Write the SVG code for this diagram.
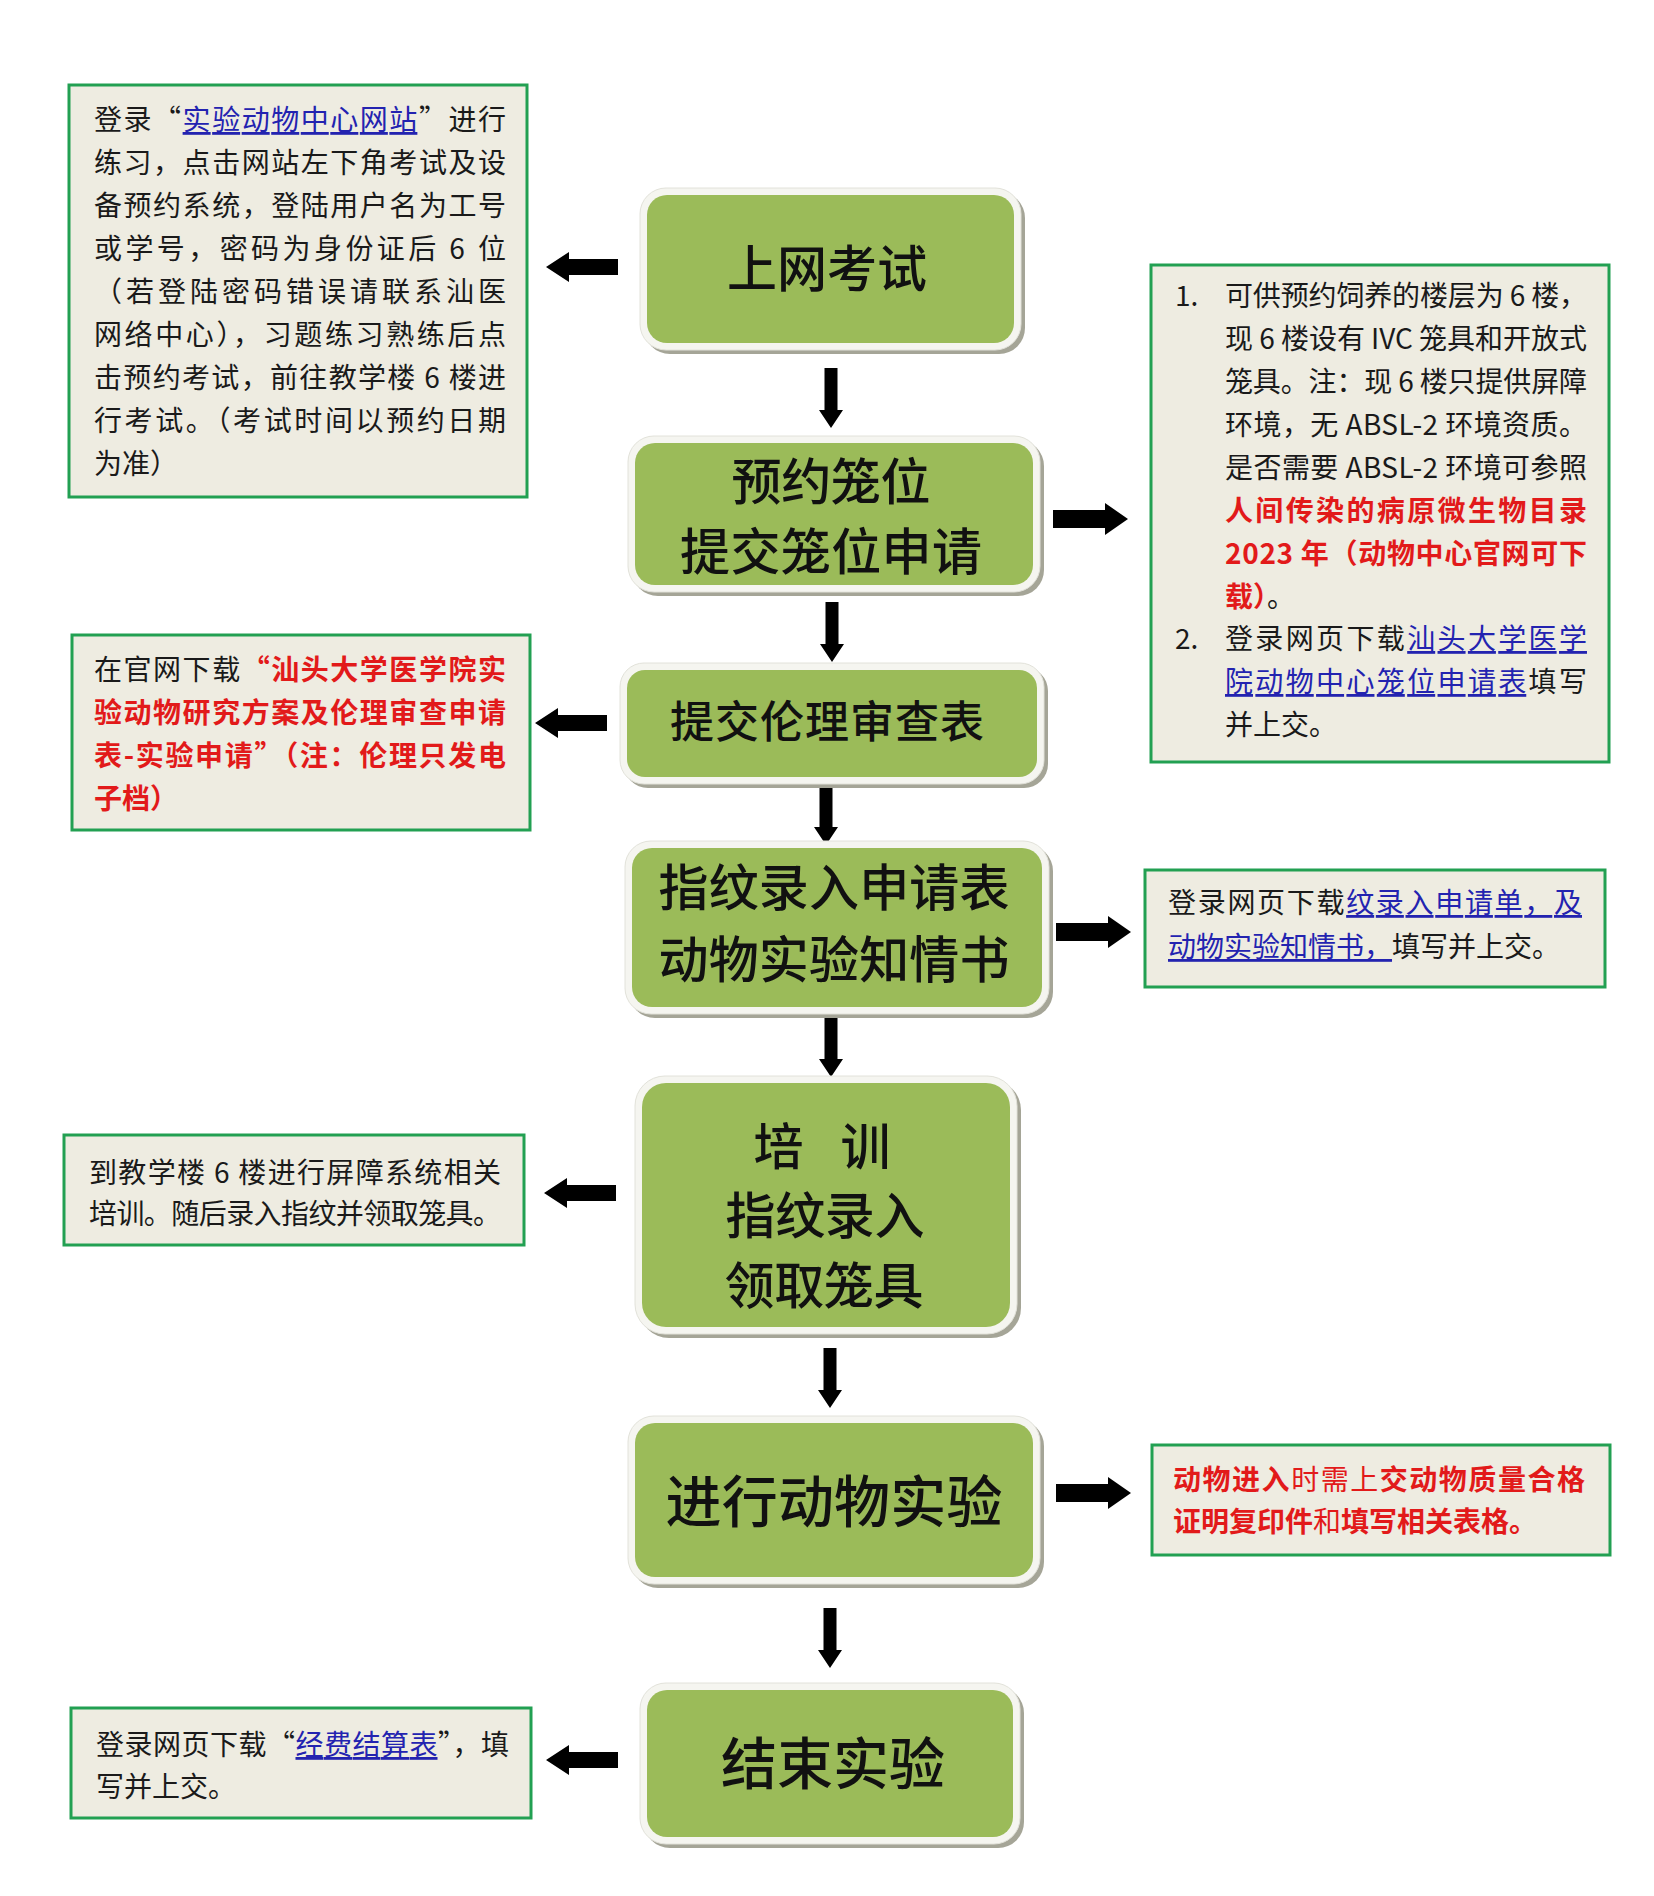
<svg xmlns="http://www.w3.org/2000/svg" width="1654" height="1896" viewBox="0 0 1654 1896">
<style>
.bg{fill:#ffffff}
.box{fill:#EEECE1;stroke:#22A052;stroke-width:3}
.shadow{fill:#A5A597}
.rim{fill:#F5F5F0;stroke:#E2E2DA;stroke-width:1}
.green{fill:#9BBB59}
.title{font-family:"Noto Sans CJK SC","Noto Sans CJK JP",sans-serif;fill:#111;text-anchor:middle;font-weight:500}
.t{font-family:"Noto Sans CJK SC","Noto Sans CJK JP",sans-serif;font-size:28px;fill:#1a1a1a}
.red{fill:#E21A1A;font-weight:700}
.redn{fill:#E21A1A}
.link{fill:#2323B0;text-decoration:underline}
.arrow{fill:#000}
</style>
<defs>
<path id="aL" d="M0,0 L23,-15 L23,-8 L72,-8 L72,8 L23,8 L23,15 Z"/>
<path id="aR" d="M0,0 L-23,-16 L-23,-9 L-75,-9 L-75,9 L-23,9 L-23,16 Z"/>
<path id="aD" d="M0,0 L-12,-18 L-6.5,-18 L-6.5,-60 L6.5,-60 L6.5,-18 L12,-18 Z"/>
</defs>
<rect class="bg" x="0" y="0" width="1654" height="1896"/>

<g id="connectors" class="arrow">
<use href="#aL" x="546" y="267"/>
<use href="#aD" x="831" y="428"/>
<use href="#aR" x="1128" y="519"/>
<use href="#aD" x="832" y="662"/>
<use href="#aL" x="535" y="723"/>
<use href="#aD" x="826" y="845"/>
<use href="#aR" x="1131" y="932"/>
<use href="#aD" x="831" y="1077"/>
<use href="#aL" x="544" y="1193"/>
<use href="#aD" x="830" y="1408"/>
<use href="#aR" x="1131" y="1493"/>
<use href="#aD" x="830" y="1668"/>
<use href="#aL" x="546" y="1760"/>
</g>

<g id="node-exam">
<rect class="shadow" x="644" y="192" width="381" height="162" rx="26"/>
<rect class="rim" x="640" y="188" width="381" height="162" rx="26"/>
<rect class="green" x="647" y="195" width="367" height="148" rx="20"/>
<text class="title" x="827" y="287" font-size="50" textLength="200">上网考试</text>
</g>

<g id="node-reserve">
<rect class="shadow" x="632" y="440" width="412" height="156" rx="26"/>
<rect class="rim" x="628" y="436" width="412" height="156" rx="26"/>
<rect class="green" x="635" y="443" width="398" height="142" rx="20"/>
<text class="title" x="831" y="500" font-size="50" textLength="199">预约笼位</text>
<text class="title" x="831" y="570" font-size="50" textLength="302">提交笼位申请</text>
</g>

<g id="node-ethics">
<rect class="shadow" x="624" y="667" width="424" height="121" rx="24"/>
<rect class="rim" x="620" y="663" width="424" height="121" rx="24"/>
<rect class="green" x="627" y="670" width="410" height="107" rx="18"/>
<text class="title" x="827" y="738" font-size="44" textLength="314">提交伦理审查表</text>
</g>

<g id="node-fingerprint">
<rect class="shadow" x="629" y="845" width="424" height="173" rx="26"/>
<rect class="rim" x="625" y="841" width="424" height="173" rx="26"/>
<rect class="green" x="632" y="848" width="410" height="159" rx="20"/>
<text class="title" x="834" y="906" font-size="50" textLength="351">指纹录入申请表</text>
<text class="title" x="834" y="978" font-size="50" textLength="351">动物实验知情书</text>
</g>

<g id="node-training">
<rect class="shadow" x="639" y="1080" width="382" height="258" rx="30"/>
<rect class="rim" x="635" y="1076" width="382" height="258" rx="30"/>
<rect class="green" x="642" y="1083" width="368" height="244" rx="24"/>
<text class="title" x="822" y="1165" font-size="50" font-weight="700" xml:space="preserve" textLength="137">培 训</text>
<text class="title" x="825" y="1234" font-size="50" textLength="199">指纹录入</text>
<text class="title" x="824" y="1304" font-size="50" textLength="199">领取笼具</text>
</g>

<g id="node-experiment">
<rect class="shadow" x="632" y="1420" width="412" height="168" rx="26"/>
<rect class="rim" x="628" y="1416" width="412" height="168" rx="26"/>
<rect class="green" x="635" y="1423" width="398" height="154" rx="20"/>
<text class="title" x="834" y="1522" font-size="56" font-weight="700" textLength="337">进行动物实验</text>
</g>

<g id="node-end">
<rect class="shadow" x="644" y="1687" width="380" height="161" rx="26"/>
<rect class="rim" x="640" y="1683" width="380" height="161" rx="26"/>
<rect class="green" x="647" y="1690" width="366" height="147" rx="20"/>
<text class="title" x="833" y="1784" font-size="56" font-weight="700" textLength="224">结束实验</text>
</g>

<g id="note-exam">
<rect class="box" x="69" y="85" width="458" height="412"/>
<text class="t" x="94" y="130" textLength="412">登录“<tspan class="link">实验动物中心网站</tspan>”进行</text>
<text class="t" x="94" y="173" textLength="412">练习，点击网站左下角考试及设</text>
<text class="t" x="94" y="216" textLength="412">备预约系统，登陆用户名为工号</text>
<text class="t" x="94" y="259" textLength="412" xml:space="preserve">或学号，密码为身份证后 6 位</text>
<text class="t" x="94" y="302" textLength="412">（若登陆密码错误请联系汕医</text>
<text class="t" x="94" y="345" textLength="412">网络中心），习题练习熟练后点</text>
<text class="t" x="94" y="388" textLength="412" xml:space="preserve">击预约考试，前往教学楼 6 楼进</text>
<text class="t" x="94" y="431" textLength="412">行考试。（考试时间以预约日期</text>
<text class="t" x="94" y="474">为准）</text>
</g>

<g id="note-cage">
<rect class="box" x="1151" y="265" width="458" height="497"/>
<text class="t" x="1175" y="306">1.</text>
<text class="t" x="1225" y="306" textLength="362" xml:space="preserve">可供预约饲养的楼层为 6 楼，</text>
<text class="t" x="1225" y="349" textLength="362" xml:space="preserve">现 6 楼设有 IVC 笼具和开放式</text>
<text class="t" x="1225" y="392" textLength="362" xml:space="preserve">笼具。注：现 6 楼只提供屏障</text>
<text class="t" x="1225" y="435" textLength="362" xml:space="preserve">环境，无 ABSL-2 环境资质。</text>
<text class="t" x="1225" y="478" textLength="362" xml:space="preserve">是否需要 ABSL-2 环境可参照</text>
<text class="t red" x="1225" y="521" textLength="362">人间传染的病原微生物目录</text>
<text class="t red" x="1225" y="564" textLength="362" xml:space="preserve">2023 年（动物中心官网可下</text>
<text class="t" x="1225" y="607"><tspan class="red">载）</tspan>。</text>
<text class="t" x="1175" y="649">2.</text>
<text class="t" x="1225" y="649" textLength="362">登录网页下载<tspan class="link">汕头大学医学</tspan></text>
<text class="t" x="1225" y="692" textLength="362"><tspan class="link">院动物中心笼位申请表</tspan>填写</text>
<text class="t" x="1225" y="735">并上交。</text>
</g>

<g id="note-ethics">
<rect class="box" x="72" y="635" width="458" height="195"/>
<text class="t" x="94" y="680" textLength="412">在官网下载<tspan class="red">“汕头大学医学院实</tspan></text>
<text class="t red" x="94" y="723" textLength="412">验动物研究方案及伦理审查申请</text>
<text class="t red" x="94" y="766" textLength="412">表-实验申请”（注：伦理只发电</text>
<text class="t red" x="94" y="809">子档）</text>
</g>

<g id="note-fingerprint">
<rect class="box" x="1145" y="870" width="460" height="117"/>
<text class="t" x="1168" y="913" textLength="414">登录网页下载<tspan class="link">纹录入申请单，及</tspan></text>
<text class="t" x="1168" y="957"><tspan class="link">动物实验知情书，</tspan>填写并上交。</text>
</g>

<g id="note-training">
<rect class="box" x="64" y="1135" width="460" height="110"/>
<text class="t" x="89" y="1183" textLength="412" xml:space="preserve">到教学楼 6 楼进行屏障系统相关</text>
<text class="t" x="89" y="1224" textLength="412">培训。随后录入指纹并领取笼具。</text>
</g>

<g id="note-experiment">
<rect class="box" x="1152" y="1445" width="458" height="110"/>
<text class="t" x="1173" y="1490" textLength="412"><tspan class="red">动物进入</tspan><tspan class="redn">时需上</tspan><tspan class="red">交动物质量合格</tspan></text>
<text class="t" x="1173" y="1532"><tspan class="red">证明复印件</tspan><tspan class="redn">和</tspan><tspan class="red">填写相关表格。</tspan></text>
</g>

<g id="note-end">
<rect class="box" x="71" y="1708" width="460" height="110"/>
<text class="t" x="96" y="1755" textLength="413">登录网页下载“<tspan class="link">经费结算表</tspan>”，填</text>
<text class="t" x="96" y="1797">写并上交。</text>
</g>
</svg>
